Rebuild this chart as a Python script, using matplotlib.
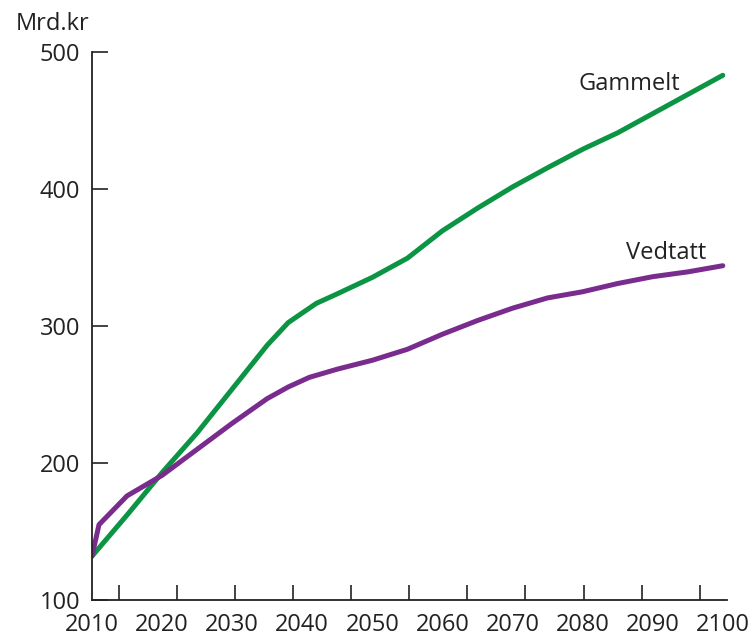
import numpy as np
import matplotlib
matplotlib.use("Agg")
import matplotlib.pyplot as plt

plt.rcParams['font.family'] = ['Open Sans', 'DejaVu Sans']

# verdier lest av figuren (mrd. kr)
aar_g = [2010, 2015, 2020, 2025, 2030, 2035, 2038, 2042, 2045, 2050,
         2055, 2060, 2065, 2070, 2075, 2080, 2085, 2090, 2095, 2100]
gammelt = [132, 162, 193, 222, 254, 286, 302.5, 316.5, 323.5, 335.5,
           349.5, 369.5, 386, 401.5, 415.5, 429, 441, 455, 469, 483]
aar_v = [2010, 2011, 2015, 2020, 2025, 2030, 2035, 2038, 2041, 2045, 2050,
         2055, 2060, 2065, 2070, 2075, 2080, 2085, 2090, 2095, 2100]
vedtatt = [132, 155, 176, 191, 210, 229, 247, 255.5, 262.5, 268.5, 275,
           283, 294, 304, 313, 320.5, 325, 331, 336, 339.5, 344]

x_etiketter = list(range(2010, 2101, 10))
y_ticks = [100, 200, 300, 400, 500]

groenn = "#0B9444"
lilla = "#7A2C8E"
tekst = "#222222"

fig = plt.figure(figsize=(7.53, 6.39), dpi=100)
ax = fig.add_axes([92/753, 1 - 600/639, (727 - 92)/753, (600 - 52)/639])

ax.plot(aar_g, gammelt, color=groenn, lw=3.6, solid_joinstyle='round', solid_capstyle='round')
ax.plot(aar_v, vedtatt, color=lilla, lw=3.6, solid_joinstyle='round', solid_capstyle='round')

ax.set_xlim(2010, 2100.6)
ax.set_ylim(100, 500)

for s in ['top', 'right']:
    ax.spines[s].set_visible(False)
for s in ['left', 'bottom']:
    ax.spines[s].set_linewidth(1.3)
    ax.spines[s].set_color(tekst)

# tickmerkene i originalen står ikke på årstallene
ax.set_xticks(np.linspace(2013.85, 2096.7, 11))
ax.set_xticklabels([])
ax.set_xticks(x_etiketter, minor=True)
ax.set_xticklabels([str(a) for a in x_etiketter], minor=True)
ax.tick_params(axis='x', which='major', direction='in', length=10.5, width=1.2, color=tekst)
ax.tick_params(axis='x', which='minor', length=0, pad=9.5, labelsize=17, labelcolor=tekst)

ax.set_yticks(y_ticks)
ax.set_yticklabels([str(v) for v in y_ticks])
ax.tick_params(axis='y', direction='in', length=11.5, width=1.2, color=tekst,
               pad=8.5, labelsize=17, labelcolor=tekst)

fig.text(90/753, 1 - 24/639, "Mrd.kr", ha='right', va='center', fontsize=17, color=tekst)

ax.text(2093.9, 476.6, "Gammelt", ha='right', va='center', fontsize=17, color=tekst)
ax.text(2097.6, 353.3, "Vedtatt", ha='right', va='center', fontsize=17, color=tekst)

fig.savefig("out.png", dpi=100)
